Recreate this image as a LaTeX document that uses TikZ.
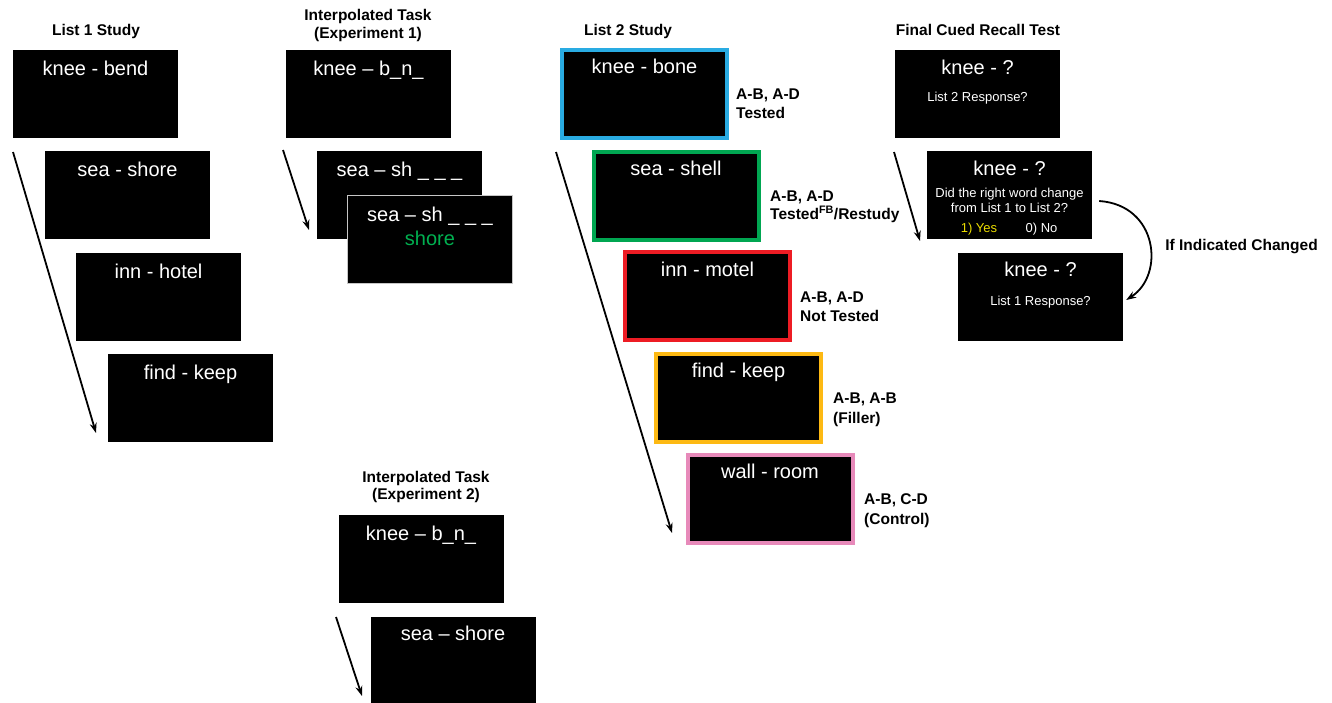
\documentclass[tikz,border=0pt]{standalone}
\usepackage{fontspec}
\setmainfont{Liberation Sans}
\usetikzlibrary{calc,arrows.meta}
\definecolor{cblue}{RGB}{41,171,226}
\definecolor{cgreen}{RGB}{0,166,81}
\definecolor{cred}{RGB}{237,28,36}
\definecolor{corange}{RGB}{253,185,19}
\definecolor{cpink}{RGB}{231,138,186}
\definecolor{tgreen}{RGB}{0,176,80}
\definecolor{tyellow}{RGB}{235,220,0}
\begin{document}
\begin{tikzpicture}[x=1pt,y=-1pt,
 screen/.style={fill=black,minimum width=165pt,minimum height=88pt,inner sep=0pt},
 framed/.style={screen,draw=#1,line width=4pt},
 word/.style={text=white,font=\fontsize{20}{24}\selectfont,anchor=base,inner sep=0pt},
 small/.style={text=white,font=\fontsize{13}{15}\selectfont,anchor=base,inner sep=0pt},
 title/.style={font=\bfseries\fontsize{15.5}{18}\selectfont,anchor=base,inner sep=0pt},
 cond/.style={font=\bfseries\fontsize{15.5}{18}\selectfont,anchor=base west,inner sep=0pt},
 flow/.style={line width=1.8pt,-{Stealth[length=10pt,width=7pt]}}
]
\useasboundingbox (0,0) rectangle (1332,702);

% ---------- List 1 Study ----------
\node[title] (t1) at (96,35) {List 1 Study};
\node[screen] (l1a) at (95.5,94) {};
\node[screen] (l1b) at (127.5,194.5) {};
\node[screen] (l1c) at (158.5,296.5) {};
\node[screen] (l1d) at (190.5,397.5) {};
\node[word] (w1a) at ($(l1a.north)+(0,26)$) {knee - bend};
\node[word] (w1b) at ($(l1b.north)+(0,26)$) {sea - shore};
\node[word] (w1c) at ($(l1c.north)+(0,26)$) {inn - hotel};
\node[word] (w1d) at ($(l1d.north)+(0,26)$) {find - keep};
\coordinate (a1s) at (13,152);
\coordinate (a1e) at (96,433);
\draw[flow] (a1s) -- (a1e);

% ---------- Interpolated Task (Experiment 1) ----------
\node[title] (t2a) at (368,20) {Interpolated Task};
\node[title] (t2b) at (368,38) {(Experiment 1)};
\node[screen] (i1a) at (368.5,94) {};
\node[screen] (i1b) at (399.5,194.5) {};
\node[screen,draw=gray!45,line width=1pt] (i1c) at (430,239) {};
\node[word] (wi1a) at ($(i1a.north)+(0,26)$) {knee – b\_n\_};
\node[word] (wi1b) at ($(i1b.north)+(0,26)$) {sea – sh \_ \_ \_};
\node[word] (wi1c) at ($(i1c.north)+(0,27)$) {sea – sh \_ \_ \_};
\node[word,text=tgreen] (wi1d) at ($(i1c.north)+(0,51)$) {shore};
\coordinate (a2s) at (283,150);
\coordinate (a2e) at (309,230);
\draw[flow] (a2s) -- (a2e);

% ---------- List 2 Study ----------
\node[title] (t3) at (628,35) {List 2 Study};
\node[framed=cblue] (l2a) at (644.5,93.5) {};
\node[framed=cgreen] (l2b) at (676,195.5) {};
\node[framed=cred] (l2c) at (707.5,296) {};
\node[framed=corange] (l2d) at (738.5,397.5) {};
\node[framed=cpink] (l2e) at (770,498.5) {};
\node[word] (w2a) at ($(l2a.north)+(0,26)$) {knee - bone};
\node[word] (w2b) at ($(l2b.north)+(0,26)$) {sea - shell};
\node[word] (w2c) at ($(l2c.north)+(0,26)$) {inn - motel};
\node[word] (w2d) at ($(l2d.north)+(0,26)$) {find - keep};
\node[word] (w2e) at ($(l2e.north)+(0,26)$) {wall - room};
\node[cond] (c1a) at (736,99) {A-B, A-D};
\node[cond] (c1b) at (736,118) {Tested};
\node[cond] (c2a) at (770,201) {A-B, A-D};
\node[cond] (c2b) at (770,219) {Tested\textsuperscript{FB}/Restudy};
\node[cond] (c3a) at (800,302) {A-B, A-D};
\node[cond] (c3b) at (800,321) {Not Tested};
\node[cond] (c4a) at (833,403) {A-B, A-B};
\node[cond] (c4b) at (833,423) {(Filler)};
\node[cond] (c5a) at (864,504) {A-B, C-D};
\node[cond] (c5b) at (864,524) {(Control)};
\coordinate (a3s) at (556,152);
\coordinate (a3e) at (672,533);
\draw[flow] (a3s) -- (a3e);

% ---------- Final Cued Recall Test ----------
\node[title] (t4) at (978,35) {Final Cued Recall Test};
\node[screen] (fa) at (977.5,94) {};
\node[screen] (fb) at (1009.5,195) {};
\node[screen] (fc) at (1040.5,297) {};
\node[word] (wfa) at ($(fa.north)+(0,25)$) {knee - ?};
\node[small] (sfa) at ($(fa.north)+(0,52)$) {List 2 Response?};
\node[word] (wfb) at ($(fb.north)+(0,25)$) {knee - ?};
\node[small] (sfb1) at ($(fb.north)+(0,47)$) {Did the right word change};
\node[small] (sfb2) at ($(fb.north)+(0,62)$) {from List 1 to List 2?};
\node[small,text=tyellow] (sfb3) at (979,232) {1) Yes};
\node[small] (sfb4) at (1041.5,232) {0) No};
\node[word] (wfc) at ($(fc.north)+(0,24)$) {knee - ?};
\node[small] (sfc) at ($(fc.north)+(0,53)$) {List 1 Response?};
\coordinate (a4s) at (894,152);
\coordinate (a4e) at (920,241);
\draw[flow] (a4s) -- (a4e);
\coordinate (cs) at ($(fb.east)+(7,6)$);
\coordinate (ce) at ($(fc.east)+(3,3)$);
\draw[flow] (cs) .. controls (1158,205) and (1165,275) .. (ce);
\node[title] (t5) at (1241.5,250) {If Indicated Changed};

% ---------- Interpolated Task (Experiment 2) ----------
\node[title] (t6a) at (426,482) {Interpolated Task};
\node[title] (t6b) at (426,499) {(Experiment 2)};
\node[screen] (i2a) at (421,558.5) {};
\node[screen] (i2b) at (453,661) {};
\node[word] (wi2a) at ($(i2a.north)+(0,26)$) {knee – b\_n\_};
\node[word] (wi2b) at ($(i2b.north)+(0,24)$) {sea – shore};
\coordinate (a5s) at (336,617);
\coordinate (a5e) at (362,696);
\draw[flow] (a5s) -- (a5e);
\end{tikzpicture}
\end{document}
